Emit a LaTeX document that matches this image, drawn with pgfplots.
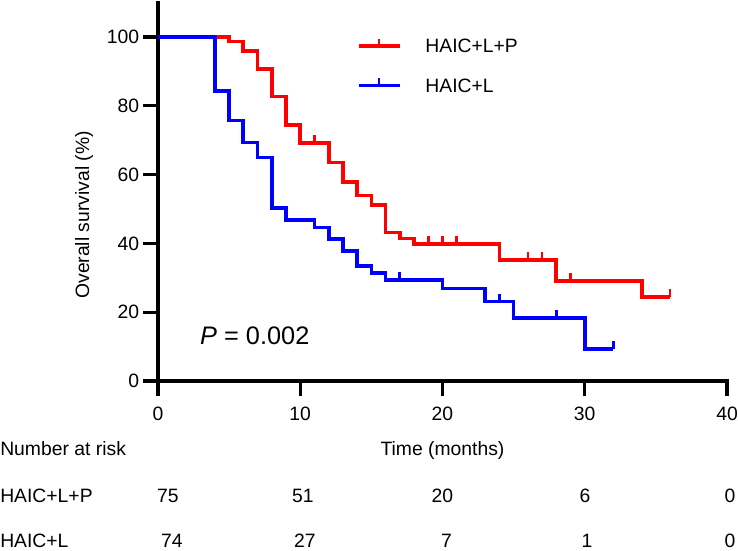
\documentclass[border=0pt]{standalone}
\usepackage{fontspec}
\setmainfont{Liberation Sans}
\usepackage{pgfplots}
\pgfplotsset{compat=1.18}
\definecolor{kmred}{RGB}{255,0,0}
\definecolor{kmblue}{RGB}{0,0,255}
\pgfdeclareplotmark{cens}{%
  \pgfpathmoveto{\pgfpointorigin}%
  \pgfpathlineto{\pgfpoint{0pt}{6pt}}%
  \pgfusepathqstroke}
\begin{document}
\begin{tikzpicture}[font=\fontsize{14.5}{17}\selectfont]
\useasboundingbox (-118.5pt,-126.75pt) rectangle (435pt,285.75pt);
\begin{axis}[
  at={(0,0)}, anchor=south west,
  scale only axis, width=426.75pt, height=283.8pt,
  xmin=0, xmax=40, ymin=0, ymax=110,
  axis lines=left,
  axis line style={-, line width=2.6pt, line cap=rect},
  xtick={0,10,20,30,40}, ytick={0,20,40,60,80,100},
  tick align=outside, major tick length=11pt,
  tick style={line width=2.4pt, black},
  /pgf/number format/assume math mode=true,
  every tick label/.append style={font=\fontsize{14.5}{17}\selectfont},
  xticklabel style={inner sep=0pt, yshift=-8pt},
  yticklabel style={inner sep=0pt, xshift=-3pt},
  clip=false,
  xlabel={Time (months)},
  xlabel style={at={(rel axis cs:0.5,-0.19555)}, anchor=base, inner sep=0pt},
  ylabel={Overall survival (\%)},
  ylabel style={at={(rel axis cs:-0.130,0.439)}, anchor=center, inner sep=0pt},
  legend style={at={(axis cs:14.01,99.9)}, anchor=north west, draw=none, fill=none,
    inner sep=0pt, outer sep=0pt, row sep=18.3pt, column sep=18pt,
    nodes={inner sep=0pt, text height=10.5pt, text depth=0pt, font=\fontsize{14.5}{17}\selectfont}},
  legend cell align=left,
]
% HAIC+L+P
\addplot[const plot, kmred, line width=2.8pt,
  legend image code/.code={\draw[kmred,line width=2.8pt] (0pt,0pt)--(30.3pt,0pt);
    \draw[kmred,line width=2pt] (15pt,0pt)--(15pt,5.25pt);}]
  coordinates {(0,100) (5,98.7) (6,96.0) (7,90.7) (8,82.7) (9,74.4) (10,69.1)
    (12,63.5) (13,57.9) (14,53.9) (15,51.2) (16,43.2) (17,41.4) (18,39.8)
    (24,35.2) (28,29.1) (34,24.5) (36,24.5)};
\addlegendentry{HAIC+L+P}
% HAIC+L
\addplot[const plot, kmblue, line width=2.8pt,
  legend image code/.code={\draw[kmblue,line width=2.8pt] (0pt,0pt)--(30.3pt,0pt);
    \draw[kmblue,line width=2pt] (15pt,0pt)--(15pt,5.25pt);}]
  coordinates {(0,100) (4,84.3) (5,75.7) (6,69.3) (7,65.0) (8,50.2) (9,46.8)
    (11,44.6) (12,41.3) (13,37.8) (14,33.4) (15,31.5) (16,29.4) (20,26.9)
    (23,23.1) (25,18.4) (30,9.2) (32,9.2)};
\addlegendentry{HAIC+L}
% censor marks
\addplot[only marks, mark=cens, kmred, mark options={line width=2pt, kmred}, forget plot]
  coordinates {(11,69.1) (19,39.8) (20,39.8) (21,39.8) (26,35.2) (27,35.2) (29,29.1) (36,24.5)};
\addplot[only marks, mark=cens, kmblue, mark options={line width=2pt, kmblue}, forget plot]
  coordinates {(17,29.4) (24,23.1) (28,18.4) (32,9.2)};
% P value
\node[anchor=base west, inner sep=0pt, font=\fontsize{19}{22}\selectfont]
  at (axis cs:2.95,10.47) {\textit{P} = 0.002};
% Number at risk table
\node[anchor=base west, inner sep=0pt] at (axis cs:-11.107,-21.51) {Number at risk};
\node[anchor=base west, inner sep=0pt] at (axis cs:-11.107,-35.26) {HAIC+L+P};
\node[anchor=base west, inner sep=0pt] at (axis cs:-11.107,-48.45) {HAIC+L};
\node[anchor=base, inner sep=0pt] at (axis cs:0.70,-35.26) {75};
\node[anchor=base, inner sep=0pt] at (axis cs:10.19,-35.26) {51};
\node[anchor=base, inner sep=0pt] at (axis cs:20.0,-35.26) {20};
\node[anchor=base, inner sep=0pt] at (axis cs:30.02,-35.26) {6};
\node[anchor=base, inner sep=0pt] at (axis cs:40.21,-35.26) {0};
\node[anchor=base, inner sep=0pt] at (axis cs:0.98,-48.45) {74};
\node[anchor=base, inner sep=0pt] at (axis cs:10.33,-48.45) {27};
\node[anchor=base, inner sep=0pt] at (axis cs:20.28,-48.45) {7};
\node[anchor=base, inner sep=0pt] at (axis cs:30.16,-48.45) {1};
\node[anchor=base, inner sep=0pt] at (axis cs:40.21,-48.45) {0};
\end{axis}
\end{tikzpicture}
\end{document}
